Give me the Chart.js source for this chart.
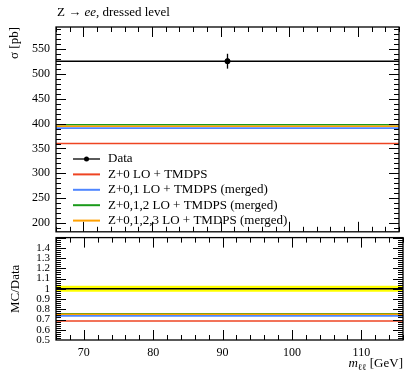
<!DOCTYPE html>
<html>
<head>
<meta charset="utf-8">
<script src="https://cdn.jsdelivr.net/npm/chart.js@4/dist/chart.umd.min.js"></script>
<style>
  html, body { margin: 0; padding: 0; background: #fff; }
  #wrap { position: relative; width: 404px; height: 372px; overflow: hidden; }
  #wrap canvas { position: absolute; left: 0; }
  #ratio { top: 225px; }
  #main { top: 0; }
</style>
</head>
<body>
<div id="wrap">
  <canvas id="ratio" width="404" height="147"></canvas>
  <canvas id="main" width="404" height="245"></canvas>
</div>
<script>
// values
const xEdges = [66, 116];                 // one bin, m_ll range
const xTicks = [70, 80, 90, 100, 110];
const sigmaTicks = [200, 250, 300, 350, 400, 450, 500, 550];
const ratioTicks = [0.5, 0.6, 0.7, 0.8, 0.9, 1, 1.1, 1.2, 1.3, 1.4];

const seriesNames = [
  "Z+0 LO + TMDPS",
  "Z+0,1 LO + TMDPS (merged)",
  "Z+0,1,2 LO + TMDPS (merged)",
  "Z+0,1,2,3 LO + TMDPS (merged)"
];
const mcXsec = [360, 391, 398, 395];
const mcRatio = [0.685, 0.736, 0.756, 0.752];

const dataX = [91];
const dataXsec = [526];
const dataErr = [15];
const ratioBandLo = [0.971];
const ratioBandHi = [1.029];

const seriesColors = ["#ee4422", "#4f86ff", "#1a9a1a", "#ffa000"];
const serif = "'Liberation Serif', 'DejaVu Serif', serif";

Chart.defaults.font.family = serif;
Chart.defaults.color = "#000";

function flat(v) {
  return xEdges.map(x => ({x: x, y: v}));
}

// inward tick marks on all four sides + frame
function tickMarks(yFrom, yTo, yStep, yMajorEvery) {
  return {
    id: "tickMarks",
    afterDatasetsDraw(chart) {
      const ctx = chart.ctx, a = chart.chartArea;
      const x = chart.scales.x, y = chart.scales.y;
      ctx.save();
      ctx.strokeStyle = "#000";
      ctx.lineWidth = 1;
      ctx.beginPath();
      for (let v = 66; v <= 116; v += 2) {
        const px = Math.round(x.getPixelForValue(v)) + 0.5;
        const len = v % 10 === 0 ? 10 : 5;
        ctx.moveTo(px, a.bottom); ctx.lineTo(px, a.bottom - len);
        ctx.moveTo(px, a.top); ctx.lineTo(px, a.top + len);
      }
      for (let i = yFrom; i <= yTo; i++) {
        const py = Math.round(y.getPixelForValue(i * yStep)) + 0.5;
        if (py < a.top || py > a.bottom) continue;
        const len = i % yMajorEvery === 0 ? 10 : 5;
        ctx.moveTo(a.left, py); ctx.lineTo(a.left + len, py);
        ctx.moveTo(a.right, py); ctx.lineTo(a.right - len, py);
      }
      ctx.stroke();
      ctx.lineWidth = 1.3;
      ctx.strokeRect(a.left, a.top, a.right - a.left, a.bottom - a.top);
      ctx.restore();
    }
  };
}

const dataMarks = {
  id: "dataMarks",
  afterDatasetsDraw(chart) {
    const ctx = chart.ctx, x = chart.scales.x, y = chart.scales.y;
    ctx.save();
    ctx.strokeStyle = "#000";
    ctx.lineWidth = 1.3;
    dataX.forEach((dx, i) => {
      const px = x.getPixelForValue(dx);
      ctx.beginPath();
      ctx.moveTo(px, y.getPixelForValue(dataXsec[i] + dataErr[i]));
      ctx.lineTo(px, y.getPixelForValue(dataXsec[i] - dataErr[i]));
      ctx.stroke();
    });
    ctx.restore();
  }
};

const mainDecor = {
  id: "mainDecor",
  afterDraw(chart) {
    const ctx = chart.ctx, a = chart.chartArea;
    ctx.save();
    ctx.fillStyle = "#000";
    ctx.textBaseline = "middle";
    // title
    let tx = a.left + 1;
    const parts = [["Z \u2192 ", ""], ["ee", "italic "], [", dressed level", ""]];
    parts.forEach(p => {
      ctx.font = p[1] + "13px " + serif;
      ctx.fillText(p[0], tx, 13);
      tx += ctx.measureText(p[0]).width;
    });
    // legend
    const rows = ["Data"].concat(seriesNames);
    rows.forEach((label, k) => {
      const ly = 159 + k * 15.4;
      ctx.beginPath();
      ctx.lineWidth = k === 0 ? 1.3 : 2;
      ctx.strokeStyle = k === 0 ? "#000" : seriesColors[k - 1];
      ctx.moveTo(a.left + 17, ly);
      ctx.lineTo(a.left + 44, ly);
      ctx.stroke();
      if (k === 0) {
        ctx.beginPath();
        ctx.arc(a.left + 30.5, ly, 2.5, 0, Math.PI * 2);
        ctx.fill();
      }
      ctx.font = "13px " + serif;
      ctx.fillText(label, a.left + 52, ly);
    });
    ctx.restore();
  }
};

const ratioDecor = {
  id: "ratioDecor",
  afterDraw(chart) {
    const ctx = chart.ctx, a = chart.chartArea;
    ctx.save();
    ctx.fillStyle = "#000";
    ctx.textBaseline = "alphabetic";
    const base = 142;
    ctx.font = "13px " + serif;
    const w3 = ctx.measureText(" [GeV]").width;
    ctx.font = "9px " + serif;
    const w2 = ctx.measureText("\u2113\u2113").width;
    ctx.font = "italic 13px " + serif;
    const w1 = ctx.measureText("m").width;
    let tx = a.right - (w1 + w2 + w3);
    ctx.fillText("m", tx, base); tx += w1;
    ctx.font = "9px " + serif;
    ctx.fillText("\u2113\u2113", tx, base + 3); tx += w2;
    ctx.font = "13px " + serif;
    ctx.fillText(" [GeV]", tx, base);
    ctx.restore();
  }
};

// lower "order" is drawn on top: orange over green over blue over red
const mainSets = mcXsec.map((v, i) => ({
  data: flat(v),
  showLine: true,
  borderColor: seriesColors[i],
  borderWidth: 1.6,
  pointRadius: 0,
  order: 10 - i
}));
mainSets.push({
  data: flat(dataXsec[0]),
  showLine: true,
  borderColor: "#000",
  borderWidth: 1.5,
  pointRadius: 0,
  order: 2
});
mainSets.push({
  data: dataX.map((x, i) => ({x: x, y: dataXsec[i]})),
  showLine: false,
  pointRadius: 2.6,
  pointBackgroundColor: "#000",
  pointBorderColor: "#000",
  order: 1
});

new Chart("main", {
  type: "scatter",
  data: {datasets: mainSets},
  options: {
    responsive: false,
    animation: false,
    layout: {padding: {left: 0, right: 1, top: 27, bottom: 10}},
    plugins: {legend: {display: false}, tooltip: {enabled: false}},
    scales: {
      x: {type: "linear", min: 66, max: 116, display: false},
      y: {
        type: "linear", min: 182, max: 595,
        afterBuildTicks: s => { s.ticks = sigmaTicks.map(v => ({value: v})); },
        afterFit: s => { s.width = 56; },
        grid: {display: false, drawTicks: false},
        border: {display: false},
        ticks: {padding: 6, font: {size: 12}, autoSkip: false},
        title: {display: true, text: "\u03c3 [pb]", align: "end", font: {size: 13}, padding: {top: 7, bottom: 0}}
      }
    }
  },
  plugins: [tickMarks(19, 59, 10, 5), dataMarks, mainDecor]
});

const ratioSets = [
  {data: flat(ratioBandLo[0]), showLine: true, borderWidth: 0, pointRadius: 0, fill: false, order: 30},
  {data: flat(ratioBandHi[0]), showLine: true, borderWidth: 0, pointRadius: 0, fill: "-1", backgroundColor: "#ffff00", order: 29},
  {data: flat(1), showLine: true, borderColor: "#000", borderWidth: 1.5, pointRadius: 0, order: 20}
];
mcRatio.forEach((v, i) => ratioSets.push({
  data: flat(v),
  showLine: true,
  borderColor: seriesColors[i],
  borderWidth: 1.6,
  pointRadius: 0,
  order: 10 - i
}));

new Chart("ratio", {
  type: "scatter",
  data: {datasets: ratioSets},
  options: {
    responsive: false,
    animation: false,
    layout: {padding: {left: 0, right: 1, top: 10, bottom: 0}},
    plugins: {legend: {display: false}, tooltip: {enabled: false}, filler: {propagate: false}},
    scales: {
      x: {
        type: "linear", min: 66, max: 116,
        afterBuildTicks: s => { s.ticks = xTicks.map(v => ({value: v})); },
        afterFit: s => { s.height = 32; },
        grid: {display: false, drawTicks: false},
        border: {display: false},
        ticks: {padding: 6, font: {size: 12}, maxRotation: 0, autoSkip: false}
      },
      y: {
        type: "linear", min: 0.5, max: 1.5,
        afterBuildTicks: s => { s.ticks = ratioTicks.map(v => ({value: v})); },
        afterFit: s => { s.width = 56; },
        grid: {display: false, drawTicks: false},
        border: {display: false},
        ticks: {padding: 6, font: {size: 11}, autoSkip: false, callback: v => String(v)},
        title: {display: true, text: "MC/Data", align: "center", font: {size: 13}, padding: {top: 8, bottom: 0}}
      }
    }
  },
  plugins: [tickMarks(25, 75, 0.02, 5), ratioDecor]
});
</script>
</body>
</html>
